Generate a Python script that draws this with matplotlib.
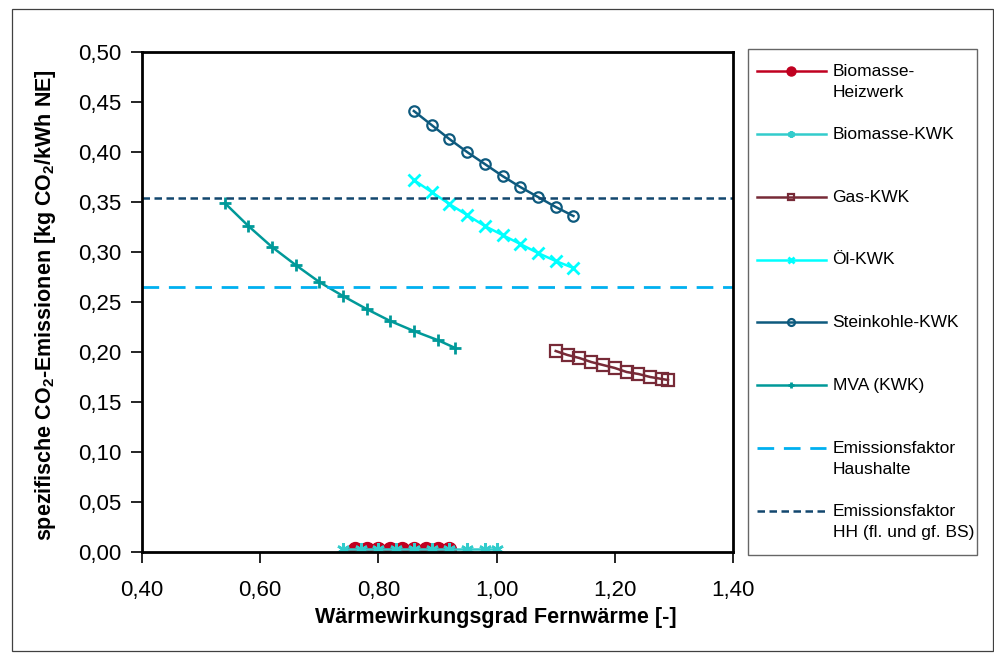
import matplotlib
matplotlib.use("Agg")
import matplotlib.pyplot as plt
from matplotlib.ticker import FuncFormatter
from matplotlib.patches import Rectangle

plt.rcParams['font.family'] = ['Liberation Sans', 'DejaVu Sans']
plt.rcParams['mathtext.fontset'] = 'custom'
plt.rcParams['mathtext.rm'] = 'Liberation Sans'
plt.rcParams['mathtext.bf'] = 'Liberation Sans:bold'

# ---- data ----
bio_hw_x = [0.76, 0.78, 0.80, 0.82, 0.84, 0.86, 0.88, 0.90, 0.92]
bio_hw_y = [0.003] * 9

bio_kwk_x = [0.74, 0.77, 0.80, 0.83, 0.86, 0.89, 0.92, 0.95, 0.98, 1.00]
bio_kwk_y = [0.003] * 10

gas_x = [1.10, 1.12, 1.14, 1.16, 1.18, 1.20, 1.22, 1.24, 1.26, 1.28, 1.29]
gas_y = [0.201, 0.197, 0.194, 0.190, 0.187, 0.184, 0.180, 0.178, 0.175, 0.173, 0.172]

oel_x = [0.86, 0.89, 0.92, 0.95, 0.98, 1.01, 1.04, 1.07, 1.10, 1.13]
oel_y = [0.372, 0.360, 0.348, 0.337, 0.326, 0.317, 0.308, 0.299, 0.291, 0.284]

stein_x = [0.86, 0.89, 0.92, 0.95, 0.98, 1.01, 1.04, 1.07, 1.10, 1.13]
stein_y = [0.441, 0.427, 0.413, 0.400, 0.388, 0.376, 0.365, 0.355, 0.345, 0.336]

mva_x = [0.54, 0.58, 0.62, 0.66, 0.70, 0.74, 0.78, 0.82, 0.86, 0.90, 0.93]
mva_y = [0.349, 0.326, 0.305, 0.287, 0.270, 0.256, 0.243, 0.231, 0.221, 0.212, 0.204]

ef_haushalte = 0.265
ef_hh = 0.354

labels = ["Biomasse-\nHeizwerk", "Biomasse-KWK", "Gas-KWK", "Öl-KWK",
          "Steinkohle-KWK", "MVA (KWK)", "Emissionsfaktor\nHaushalte",
          "Emissionsfaktor\nHH (fl. und gf. BS)"]

xticks = [0.40, 0.60, 0.80, 1.00, 1.20, 1.40]
yticks = [0.00, 0.05, 0.10, 0.15, 0.20, 0.25, 0.30, 0.35, 0.40, 0.45, 0.50]

# ---- figure ----
W, H = 995, 653
fig = plt.figure(figsize=(W / 100, H / 100), dpi=100)
fig.patch.set_facecolor('white')

# outer border
fig.patches.append(Rectangle((12 / W, 2 / H), 981 / W, (H - 11) / H, transform=fig.transFigure,
                             fill=False, edgecolor='#404040', linewidth=0.9))

left, right, top, bottom = 142, 733, 52, 552
ax = fig.add_axes([left / W, (H - bottom) / H, (right - left) / W, (bottom - top) / H])

h1, = ax.plot(bio_hw_x, bio_hw_y, color='#C00020', lw=1.8, marker='o', ms=10, label=labels[0])
h2, = ax.plot(bio_kwk_x, bio_kwk_y, color='#33CCCC', lw=1.8, marker=(6, 2, 0), ms=9, mew=1.8, label=labels[1])
h3, = ax.plot(gas_x, gas_y, color='#772A37', lw=1.8, marker='s', ms=8, mfc='none', mew=1.6, label=labels[2])
h4, = ax.plot(oel_x, oel_y, color='#00FFFF', lw=1.8, marker='x', ms=8.5, mew=2.0, label=labels[3])
h5, = ax.plot(stein_x, stein_y, color='#0E5A7E', lw=1.8, marker='o', ms=7.5, mfc='none', mew=1.6, label=labels[4])
h6, = ax.plot(mva_x, mva_y, color='#009999', lw=1.8, marker='+', ms=9, mew=2.0, label=labels[5])
h7 = ax.axhline(ef_haushalte, color='#00B0F0', lw=2.0, dashes=(6, 3.5), label=labels[6])
h8 = ax.axhline(ef_hh, color='#12476E', lw=1.8, dashes=(3.0, 1.8), label=labels[7])

ax.set_xlim(0.40, 1.40)
ax.set_ylim(0.0, 0.50)
ax.set_xticks(xticks)
ax.set_yticks(yticks)
fmt = FuncFormatter(lambda v, p: f"{v:.2f}".replace('.', ','))
ax.xaxis.set_major_formatter(fmt)
ax.yaxis.set_major_formatter(fmt)
ax.tick_params(axis='y', direction='out', length=8, width=1.2, pad=7, labelsize=16)
ax.tick_params(axis='x', direction='out', length=8, width=1.2, pad=12, labelsize=16)
for s in ax.spines.values():
    s.set_linewidth(2.0)
    s.set_color('black')

ax.set_xlabel("Wärmewirkungsgrad Fernwärme [-]", fontsize=15.5, fontweight='bold')
ax.xaxis.set_label_coords((496 - left) / (right - left), -(617 - bottom) / (bottom - top), transform=ax.transAxes)
ax.xaxis.label.set_va('center')
ax.set_ylabel(r"spezifische CO$_\mathbf{2}$-Emissionen [kg CO$_\mathbf{2}$/kWh NE]",
              fontsize=15.5, fontweight='bold')
ax.yaxis.set_label_coords(-(left - 46) / (right - left), (bottom - 305) / (bottom - top), transform=ax.transAxes)
ax.yaxis.label.set_va('center')

# legend: every entry occupies two text lines, key aligned with the first line
leg_labels = [l if "\n" in l else l + "\n " for l in labels]
leg = fig.legend(handles=[h1, h2, h3, h4, h5, h6, h7, h8], labels=leg_labels,
                 loc='upper left',
                 bbox_to_anchor=(748 / W, 1 - 553 / H, (977 - 748) / W, (553 - 49) / H),
                 mode='expand', frameon=True, fancybox=False, fontsize=12.5,
                 handlelength=3.62, handletextpad=0.4, borderpad=0.85, labelspacing=1.55,
                 borderaxespad=0)
leg.get_frame().set_edgecolor('#404040')
leg.get_frame().set_linewidth(1.0)
for t in leg.get_texts():
    t.set_linespacing(1.5)
for lh in leg.legend_handles:
    lh.set_markersize(5)
leg.legend_handles[0].set_markersize(6.5)

shift_y = 7.8    # points: key moved up to the first text line
ext_left = 4.3   # points: key extended to the left
L = 3.62 * 12.5  # key length in points
try:
    for col in leg._legend_handle_box.get_children():
        for item in col.get_children():
            da = item.get_children()[0]
            for art in da.get_children():
                yd = art.get_ydata()
                xd = art.get_xdata()
                art.set_ydata([y + shift_y for y in yd])
                art.set_xdata([x * (L + ext_left) / L - ext_left for x in xd])
except Exception:
    pass

fig.savefig("out.png", dpi=100, facecolor='white')
